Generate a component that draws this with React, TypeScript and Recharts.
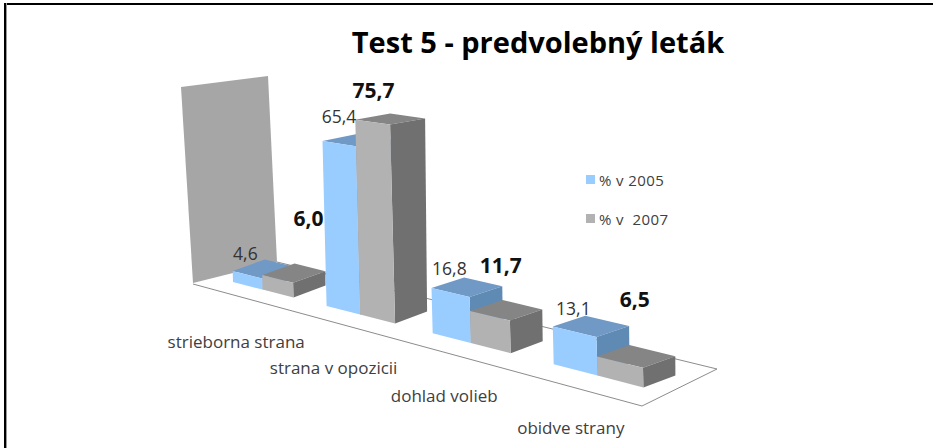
import { Bar, BarChart, Customized, LabelList, Legend, XAxis, YAxis } from 'recharts';

const categories = ['strieborna strana', 'strana v opozicii', 'dohlad volieb', 'obidve strany'];
const pct2005 = [4.6, 65.4, 16.8, 13.1];
const pct2007 = [6.0, 75.7, 11.7, 6.5];
const seriesNames = ['% v 2005', '% v  2007'];

const data = categories.map((name, i) => ({ name, pct2005: pct2005[i], pct2007: pct2007[i] }));

// flat plot area that the perspective below is applied to
const PLOT_L = 100;
const PLOT_W = 400;
const PLOT_TOP = 40;
const PLOT_H = 235; // 100 % on the y axis
const BASE = PLOT_TOP + PLOT_H;

const FONT = '"Open Sans", sans-serif';

const BLUE = { front: '#99ccff', top: '#7099c6', side: '#5f8ab4' };
const GRAY = { front: '#b2b2b2', top: '#858585', side: '#707070' };

// nudges for value labels, same order as the categories
const nudge2005 = [
  [-2, -15],
  [0, -21],
  [-1, -17],
  [-1, -17],
];
const nudge2007 = [
  [31, -53],
  [1, -24],
  [11, -43],
  [15, -55],
];

function project(px: number, py: number) {
  const t = (px - PLOT_L) / PLOT_W;
  const w = 1 - 0.2312 * t;
  const fx = (295.3 * t + 217.7) / w;
  const h = (BASE - py) / w;
  return { x: fx - h * 0.025, y: 282 + 0.2567 * (fx - 233) - h, h };
}

function back(p: { x: number; y: number; h: number }) {
  return { x: p.x + 32 + p.h * 0.015, y: p.y - 12 + p.h * 0.03, h: p.h };
}

function pts(list: { x: number; y: number }[]) {
  return list.map((p) => `${p.x.toFixed(1)},${p.y.toFixed(1)}`).join(' ');
}

function Box3D(props: any, colors: typeof BLUE) {
  const { x, y, width, height } = props;
  const tl = project(x, y);
  const tr = project(x + width, y);
  const bl = project(x, y + height);
  const br = project(x + width, y + height);
  return (
    <g>
      <polygon points={pts([tl, back(tl), back(tr), tr])} fill={colors.top} />
      <polygon points={pts([tr, back(tr), back(br), br])} fill={colors.side} />
      <polygon points={pts([tl, tr, br, bl])} fill={colors.front} />
    </g>
  );
}

function BackWall() {
  return (
    <g>
      <polygon points="181,87 268,76 277,262 193,283" fill="#a6a6a6" />
      <polyline points="193,284 642,406 717,369 277,262" fill="none" stroke="#8c8c8c" strokeWidth={1} />
    </g>
  );
}

function Title() {
  return (
    <text x={538} y={53} textAnchor="middle" fontFamily={FONT} fontWeight={700} fontSize={29} fill="#000">
      Test 5 - predvolebný leták
    </text>
  );
}

function CategoryTick({ x, payload }: any) {
  const p = project(x, BASE);
  return (
    <text x={p.x - 26} y={p.y + 59} textAnchor="middle" fontFamily={FONT} fontSize={17} fill="#404040">
      {payload.value}
    </text>
  );
}

function valueLabel(nudges: number[][], bold: boolean) {
  return function ValueLabel({ x, y, width, index, value }: any) {
    const p = project(x + width / 2, y);
    const [dx, dy] = nudges[index];
    return (
      <text
        x={p.x + dx}
        y={p.y + dy}
        textAnchor="middle"
        fontFamily={FONT}
        fontSize={bold ? 21 : 17.5}
        fontWeight={bold ? 700 : 400}
        fill={bold ? '#111' : '#333'}
      >
        {String(value).includes('.') ? String(value).replace('.', ',') : `${value},0`}
      </text>
    );
  };
}

function LegendBox() {
  const rows = [
    { name: seriesNames[0], color: BLUE.front },
    { name: seriesNames[1], color: GRAY.front },
  ];
  return (
    <div style={{ fontFamily: FONT, fontSize: 15, letterSpacing: 0.4, color: '#404040' }}>
      {rows.map((r) => (
        <div key={r.name} style={{ display: 'flex', alignItems: 'center', height: 39, whiteSpace: 'pre' }}>
          <span style={{ width: 9, height: 9, background: r.color, marginRight: 4 }} />
          {r.name}
        </div>
      ))}
    </div>
  );
}

export default function App() {
  return (
    <div style={{ position: 'fixed', left: 0, top: 0, width: 933, height: 448, background: '#fff', overflow: 'hidden' }}>
      <div style={{ position: 'absolute', left: 0, right: 0, top: 3, height: 2, marginLeft: 4, background: '#000' }} />
      <div
        style={{
          position: 'absolute',
          left: 4,
          top: 3,
          bottom: 0,
          width: 2,
          background: '#000',
          borderRight: '1px solid #999',
        }}
      />
      <BarChart
        width={933}
        height={448}
        data={data}
        margin={{ top: PLOT_TOP, left: PLOT_L, right: 933 - PLOT_L - PLOT_W, bottom: 448 - BASE - 30 }}
        barCategoryGap="17.5%"
        barGap={0}
      >
        <Customized component={BackWall} />
        <Customized component={Title} />
        <XAxis dataKey="name" height={30} interval={0} axisLine={false} tickLine={false} tick={CategoryTick} />
        <YAxis hide domain={[0, 100]} />
        <Legend
          layout="vertical"
          align="center"
          verticalAlign="middle"
          content={LegendBox}
          wrapperStyle={{ left: 586, top: 160, width: 100 }}
        />
        <Bar dataKey="pct2005" isAnimationActive={false} shape={(p: any) => Box3D(p, BLUE)}>
          <LabelList dataKey="pct2005" content={valueLabel(nudge2005, false)} />
        </Bar>
        <Bar dataKey="pct2007" isAnimationActive={false} shape={(p: any) => Box3D(p, GRAY)}>
          <LabelList dataKey="pct2007" content={valueLabel(nudge2007, true)} />
        </Bar>
      </BarChart>
    </div>
  );
}
